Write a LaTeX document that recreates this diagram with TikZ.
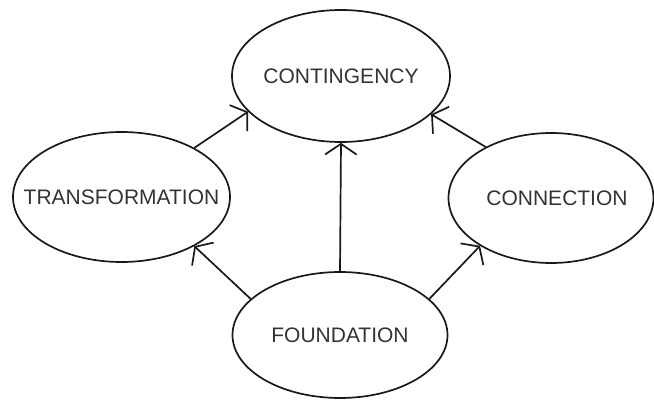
\documentclass[tikz,border=0pt]{standalone}
\usepackage{fontspec}
\setmainfont{Liberation Sans}
\usetikzlibrary{shapes.geometric,arrows.meta}
\tikzset{
  oval/.style={ellipse, draw=black!90, line width=1.7pt, inner sep=0pt},
  ovaltext/.style={font=\fontsize{21}{23}\selectfont, text=black!80, inner sep=0pt},
  link/.style={line width=1.7pt, draw=black!90, -{Straight Barb[angle=112:19pt, line width=1.7pt]}}
}
\begin{document}
\begin{tikzpicture}[x=1pt,y=-1pt]
\useasboundingbox (0,0) rectangle (654,401);
\node[oval, minimum width=218pt, minimum height=132pt,
  label={[ovaltext]center:CONTINGENCY}] (cont) at (341,76) {};
\node[oval, minimum width=217pt, minimum height=130pt,
  label={[ovaltext]center:TRANSFORMATION}] (trans) at (121.5,197) {};
\node[oval, minimum width=205pt, minimum height=130pt,
  label={[ovaltext, xshift=6pt]center:CONNECTION}] (conn) at (551,198) {};
\node[oval, minimum width=215pt, minimum height=126pt,
  label={[ovaltext]center:FOUNDATION}] (found) at (340,335) {};
\draw[link] (trans.34.4) -- (cont.201.7);
\draw[link] (conn.142.9) -- (cont.337.2);
\draw[link] (found.90) -- (cont.270);
\draw[link] (found.158.7) -- (trans.326.1);
\draw[link] (found.22.8) -- (conn.214.3);
\end{tikzpicture}
\end{document}
